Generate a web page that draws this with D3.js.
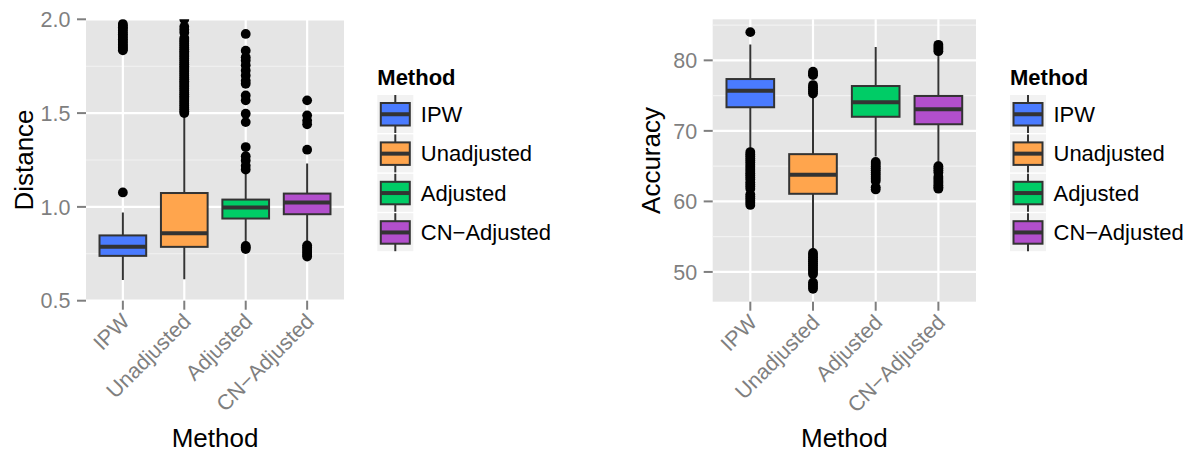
<!DOCTYPE html>
<html>
<head>
<meta charset="utf-8">
<script src="https://cdn.jsdelivr.net/npm/d3@7"></script>
<style>
  body { margin: 0; background: #fff; }
  text { font-family: "Liberation Sans", Arial, sans-serif; }
</style>
</head>
<body>
<div id="chart"></div>
<script>
const methods = ["IPW", "Unadjusted", "Adjusted", "CN-Adjusted"];
const methodLabels = ["IPW", "Unadjusted", "Adjusted", "CN\u2212Adjusted"];
const fillColors = ["#4a7bff", "#ffa54d", "#00cc66", "#b24fcc"];

// Distance panel
const distLower = [0.61, 0.614, 0.81, 0.808];
const distQ1 = [0.739, 0.787, 0.938, 0.961];
const distMedian = [0.787, 0.859, 0.997, 1.023];
const distQ3 = [0.848, 1.074, 1.039, 1.071];
const distUpper = [0.97, 1.497, 1.178, 1.231];
const distOutliers = [
  [1.077, 1.835, 1.842, 1.85, 1.858, 1.866, 1.875, 1.884, 1.893, 1.902, 1.911, 1.92, 1.93, 1.94, 1.95, 1.958, 1.966, 1.975],
  [1.50, 1.51, 1.52, 1.53, 1.54, 1.55, 1.56, 1.57, 1.58, 1.59, 1.60, 1.61, 1.62, 1.63, 1.64, 1.65, 1.66, 1.67, 1.68, 1.69, 1.70,
   1.71, 1.72, 1.73, 1.74, 1.75, 1.76, 1.77, 1.78, 1.79, 1.80, 1.81, 1.82, 1.83, 1.84, 1.85, 1.86, 1.87, 1.88, 1.89, 1.90,
   1.93, 1.945, 1.96, 2.0],
  [0.775, 0.785, 0.792, 1.199, 1.22, 1.248, 1.27, 1.319, 1.452, 1.497, 1.568, 1.594, 1.656, 1.673, 1.70, 1.727, 1.755, 1.78, 1.798, 1.833, 1.922],
  [0.735, 0.745, 0.755, 0.765, 0.775, 0.785, 0.795, 1.305, 1.44, 1.46, 1.488, 1.568]
];
const distTicks = [0.5, 1.0, 1.5, 2.0];

// Accuracy panel
const accLower = [67.3, 52.9, 66.36, 65.4];
const accQ1 = [73.35, 61.08, 72.0, 70.94];
const accMedian = [75.7, 63.77, 74.06, 73.06];
const accQ3 = [77.35, 66.7, 76.36, 74.95];
const accUpper = [82.26, 75.09, 81.9, 81.0];
const accOutliers = [
  [84.0, 67.0, 66.7, 66.4, 66.1, 65.8, 65.5, 65.2, 64.9, 64.6, 64.3, 64.0, 63.7, 63.4, 63.1, 62.7, 62.4, 62.1, 61.8, 61.0, 60.7, 60.4, 60.1, 59.8, 59.5],
  [78.4, 78.1, 77.9, 76.5, 76.2, 75.9, 75.6, 75.3, 52.7, 52.4, 52.1, 51.8, 51.5, 51.2, 50.9, 50.6, 50.3, 50.0, 49.7, 48.5, 48.2, 47.9, 47.6],
  [65.6, 65.3, 65.0, 64.7, 64.4, 64.1, 63.8, 63.5, 63.2, 62.9, 62.0, 61.7],
  [82.2, 81.9, 81.6, 81.3, 65.0, 64.7, 64.4, 64.1, 63.5, 63.2, 62.9, 62.6, 62.3, 62.0, 61.8]
];
const accTicks = [50, 60, 70, 80];

const width = 1192, height = 456;
const svg = d3.select("#chart").append("svg")
  .attr("width", width).attr("height", height);

function panel(cfg) {
  const x = d3.scalePoint(methods, [cfg.left, cfg.right]).padding(0.6);
  const y = d3.scaleLinear(cfg.domain, [cfg.bottom, cfg.top]);
  const bw = x.step() * 0.76;
  const g = svg.append("g");

  g.append("rect")
    .attr("x", cfg.left).attr("y", cfg.top)
    .attr("width", cfg.right - cfg.left).attr("height", cfg.bottom - cfg.top)
    .attr("fill", "#e5e5e5");

  // minor grid
  const step = cfg.ticks[1] - cfg.ticks[0];
  const minor = [cfg.ticks[0] - step / 2, ...cfg.ticks.map(t => t + step / 2)]
    .filter(v => v > cfg.domain[0] && v < cfg.domain[1]);
  g.selectAll(".minor").data(minor).join("line")
    .attr("x1", cfg.left).attr("x2", cfg.right)
    .attr("y1", d => y(d)).attr("y2", d => y(d))
    .attr("stroke", "#f2f2f2").attr("stroke-width", 1.1);
  g.selectAll(".major").data(cfg.ticks).join("line")
    .attr("x1", cfg.left).attr("x2", cfg.right)
    .attr("y1", d => y(d)).attr("y2", d => y(d))
    .attr("stroke", "#fff").attr("stroke-width", 2.2);
  g.selectAll(".vmajor").data(methods).join("line")
    .attr("x1", d => x(d)).attr("x2", d => x(d))
    .attr("y1", cfg.top).attr("y2", cfg.bottom)
    .attr("stroke", "#fff").attr("stroke-width", 2.2);

  const clipId = "clip-" + cfg.name;
  svg.append("clipPath").attr("id", clipId).append("rect")
    .attr("x", cfg.left).attr("y", cfg.top)
    .attr("width", cfg.right - cfg.left).attr("height", cfg.bottom - cfg.top);

  const plot = g.append("g").attr("clip-path", `url(#${clipId})`);
  const rows = methods.map((m, i) => ({
    m, i, lo: cfg.lower[i], q1: cfg.q1[i], med: cfg.median[i], q3: cfg.q3[i], hi: cfg.upper[i], out: cfg.outliers[i]
  }));

  // whiskers
  plot.selectAll(".wh").data(rows).join("line")
    .attr("x1", d => x(d.m)).attr("x2", d => x(d.m))
    .attr("y1", d => y(d.lo)).attr("y2", d => y(d.hi))
    .attr("stroke", "#333").attr("stroke-width", 2);
  plot.selectAll(".box").data(rows).join("rect")
    .attr("x", d => x(d.m) - bw / 2).attr("width", bw)
    .attr("y", d => y(d.q3)).attr("height", d => y(d.q1) - y(d.q3))
    .attr("fill", d => fillColors[d.i])
    .attr("stroke", "#333").attr("stroke-width", 2);
  plot.selectAll(".med").data(rows).join("line")
    .attr("x1", d => x(d.m) - bw / 2).attr("x2", d => x(d.m) + bw / 2)
    .attr("y1", d => y(d.med)).attr("y2", d => y(d.med))
    .attr("stroke", "#333").attr("stroke-width", 4);
  plot.selectAll(".pts").data(rows).join("g")
    .selectAll("circle").data(d => d.out.map(v => ({ m: d.m, v })))
    .join("circle")
    .attr("cx", d => x(d.m)).attr("cy", d => y(d.v)).attr("r", 4.9)
    .attr("fill", "#000");

  // y axis
  g.selectAll(".yt").data(cfg.ticks).join("line")
    .attr("x1", cfg.left - 9).attr("x2", cfg.left)
    .attr("y1", d => y(d)).attr("y2", d => y(d))
    .attr("stroke", "#7f7f7f").attr("stroke-width", 2);
  g.selectAll(".yl").data(cfg.ticks).join("text")
    .attr("x", cfg.left - 15.5).attr("y", d => y(d)).attr("dy", "0.36em")
    .attr("text-anchor", "end").attr("font-size", 21.5).attr("fill", "#7f7f7f")
    .text(cfg.format);

  // x axis
  g.selectAll(".xt").data(methods).join("line")
    .attr("x1", d => x(d)).attr("x2", d => x(d))
    .attr("y1", cfg.bottom).attr("y2", cfg.bottom + 9)
    .attr("stroke", "#7f7f7f").attr("stroke-width", 2);
  g.selectAll(".xl").data(methods).join("text")
    .attr("transform", d => `translate(${x(d) + 8},${cfg.bottom + 22}) rotate(-45)`)
    .attr("text-anchor", "end").attr("font-size", 21.5).attr("fill", "#7f7f7f")
    .text((d, i) => methodLabels[i]);

  g.append("text")
    .attr("x", (cfg.left + cfg.right) / 2).attr("y", 447)
    .attr("text-anchor", "middle").attr("font-size", 26).attr("fill", "#000")
    .text("Method");
  g.append("text")
    .attr("transform", `translate(${cfg.left - 53},${(cfg.top + cfg.bottom) / 2}) rotate(-90)`)
    .attr("text-anchor", "middle").attr("font-size", 26).attr("fill", "#000")
    .text(cfg.title);

  // legend
  const lg = svg.append("g").attr("transform", `translate(${cfg.legendX},0)`);
  lg.append("text").attr("x", 0).attr("y", 85)
    .attr("font-size", 22).attr("font-weight", "bold").attr("fill", "#000")
    .text("Method");
  const keys = lg.selectAll(".key").data(methods).join("g")
    .attr("transform", (d, i) => `translate(0,${95 + i * 39.4})`);
  keys.append("rect").attr("width", 36).attr("height", 38).attr("fill", "#f2f2f2");
  keys.append("line").attr("x1", 18).attr("x2", 18).attr("y1", 0).attr("y2", 38)
    .attr("stroke", "#333").attr("stroke-width", 2);
  keys.append("rect").attr("x", 3.5).attr("y", 8).attr("width", 29).attr("height", 22.5)
    .attr("fill", (d, i) => fillColors[i]).attr("stroke", "#333").attr("stroke-width", 2);
  keys.append("line").attr("x1", 3.5).attr("x2", 32.5).attr("y1", 19.25).attr("y2", 19.25)
    .attr("stroke", "#333").attr("stroke-width", 4);
  keys.append("text").attr("x", 43.5).attr("y", 19).attr("dy", "0.36em")
    .attr("font-size", 22).attr("fill", "#000")
    .text((d, i) => methodLabels[i]);
}

panel({
  name: "dist", left: 86, right: 344, top: 19.3, bottom: 300.7,
  domain: [0.5, 2.0], ticks: distTicks, format: d3.format(".1f"),
  lower: distLower, q1: distQ1, median: distMedian, q3: distQ3, upper: distUpper,
  outliers: distOutliers, title: "Distance", legendX: 377.3
});

const accAll = d3.extent([...accLower, ...accUpper, ...accOutliers.flat()]);
const accPad = (accAll[1] - accAll[0]) * 0.05;
panel({
  name: "acc", left: 712.7, right: 976, top: 19.3, bottom: 301.7,
  domain: [accAll[0] - accPad, accAll[1] + accPad], ticks: accTicks, format: d3.format("d"),
  lower: accLower, q1: accQ1, median: accMedian, q3: accQ3, upper: accUpper,
  outliers: accOutliers, title: "Accuracy", legendX: 1010
});
</script>
</body>
</html>
